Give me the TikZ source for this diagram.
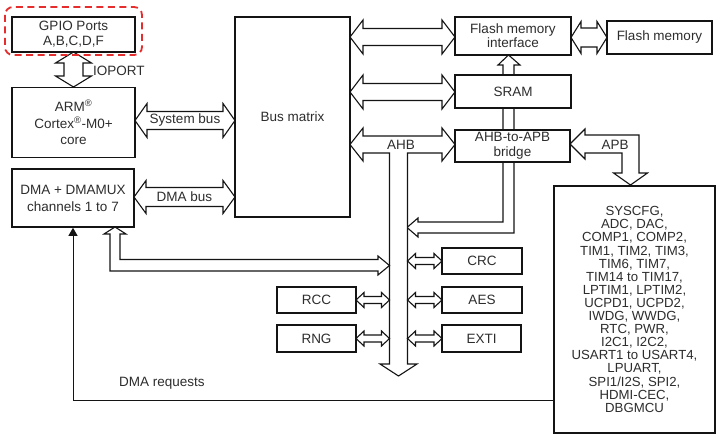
\documentclass[tikz,border=0pt]{standalone}
\usepackage{fontspec}
\setmainfont{Liberation Sans}
\usetikzlibrary{arrows.meta}
\definecolor{gpiored}{RGB}{230,45,45}
\definecolor{ink}{RGB}{20,20,20}
\definecolor{txt}{RGB}{45,45,45}
\tikzset{
  blk/.style={draw=ink,line width=1.6pt,fill=white,inner sep=0pt,align=center,text=txt,
    font=\fontsize{13.5}{15}\selectfont},
  barrow/.style={draw=ink,line width=1.1pt,fill=white,line join=miter},
  lbl/.style={text=txt,font=\fontsize{13.5}{15}\selectfont,inner sep=0pt},
}
% horizontal double-headed block arrow: x1 x2 yc shafthalf headhalf headlen
\newcommand\hdarrow[6]{%
\draw[barrow] (#1,#3) -- (#1+#6,#3-#5) -- (#1+#6,#3-#4) -- (#2-#6,#3-#4) -- (#2-#6,#3-#5) -- (#2,#3)
 -- (#2-#6,#3+#5) -- (#2-#6,#3+#4) -- (#1+#6,#3+#4) -- (#1+#6,#3+#5) -- cycle;}
% vertical double-headed block arrow: y1 y2 xc shafthalf headhalf headlen
\newcommand\vdarrow[6]{%
\draw[barrow] (#3,#1) -- (#3+#5,#1+#6) -- (#3+#4,#1+#6) -- (#3+#4,#2-#6) -- (#3+#5,#2-#6) -- (#3,#2)
 -- (#3-#5,#2-#6) -- (#3-#4,#2-#6) -- (#3-#4,#1+#6) -- (#3-#5,#1+#6) -- cycle;}
\begin{document}
\begin{tikzpicture}[x=1pt,y=-1pt]
\useasboundingbox[fill=white] (0,0) rectangle (720,441);

% ---- block arrows (drawn first, boxes cover their ends) ----
% flash-interface return bus (from AHB to flash memory interface)
\draw[barrow] (407,227.5) -- (418,218) -- (418,222) -- (503,222) -- (503,65) -- (498,65) -- (508.5,55)
  -- (520,65) -- (514,65) -- (514,233) -- (418,233) -- (418,237) -- cycle;
% AHB T-shaped bus
\draw[barrow] (350,144.5) -- (363,128) -- (363,136) -- (442,136) -- (442,128) -- (455,144.5)
  -- (442,161) -- (442,153) -- (407.5,153) -- (407.5,364) -- (417,364) -- (398.5,376)
  -- (380,364) -- (389.5,364) -- (389.5,153) -- (363,153) -- (363,161) -- cycle;
% APB bus
\draw[barrow] (570,144) -- (585,129) -- (585,135) -- (639,135) -- (639,173) -- (647.5,173)
  -- (630.5,185) -- (613.5,173) -- (622,173) -- (622,153) -- (585,153) -- (585,159) -- cycle;
% DMA to AHB
\draw[barrow] (115,227) -- (126,234) -- (120,234) -- (120,259.5) -- (378,259.5) -- (378,256)
  -- (389.5,265.5) -- (378,275) -- (378,271) -- (110,271) -- (110,234) -- (104,234) -- cycle;
% IOPORT
\vdarrow{52}{87}{73.5}{9.5}{18}{11}
% System bus, DMA bus
\hdarrow{135}{235}{120.5}{9}{17}{12}
\hdarrow{134}{235}{197}{9.5}{16.5}{12}
% bus matrix to flash interface and SRAM
\hdarrow{350}{455}{37}{8.5}{17}{13}
\hdarrow{350}{455}{92}{8.5}{17}{13}
% flash interface to flash memory
\hdarrow{571}{607}{37.5}{9.5}{16}{10}
% small peripherals
\hdarrow{356}{389.5}{300}{3.5}{7.5}{8}
\hdarrow{356}{389.5}{338.5}{3.5}{7.5}{8}
\hdarrow{407.5}{442}{261}{3.5}{7.5}{8}
\hdarrow{407.5}{442}{300}{3.5}{7.5}{8}
\hdarrow{407.5}{442}{338.5}{3.5}{7.5}{8}

% ---- boxes ----
\draw[gpiored,line width=1.8pt,dash pattern=on 7pt off 4.5pt,rounded corners=8pt] (5,7) rectangle (142,55);
\node[blk,minimum width=123pt,minimum height=35pt] (gpio) at (73.5,34.5) {GPIO Ports\\A,B,C,D,F};
\node[blk,minimum width=123pt,minimum height=70pt,font=\fontsize{13.5}{16.5}\selectfont] (arm) at (73.5,122.5)
  {ARM\textsuperscript{®}\\Cortex\textsuperscript{®}-M0+\\core};
\node[blk,minimum width=122pt,minimum height=58pt,font=\fontsize{13.5}{17}\selectfont] (dma) at (73,198)
  {DMA + DMAMUX\\channels 1 to 7};
\node[blk,minimum width=115pt,minimum height=200pt] (bm) at (292.5,117) {Bus matrix};
\node[blk,minimum width=116pt,minimum height=38pt,font=\fontsize{13.5}{14}\selectfont] (fi) at (513,36) {Flash memory\\interface};
\node[blk,minimum width=105pt,minimum height=33pt] (fm) at (659.5,37.5) {Flash memory};
\node[blk,minimum width=116pt,minimum height=33pt] (sram) at (513,91.5) {SRAM};
\node[blk,minimum width=115pt,minimum height=32pt,font=\fontsize{13.5}{14.5}\selectfont] (bridge) at (512.5,146) {AHB-to-APB\\bridge};
\node[blk,minimum width=161pt,minimum height=247pt,font=\fontsize{13.2}{13.1}\selectfont] (per) at (634.5,309.5)
  {SYSCFG,\\ADC, DAC,\\COMP1, COMP2,\\TIM1, TIM2, TIM3,\\TIM6, TIM7,\\TIM14 to TIM17,\\LPTIM1, LPTIM2,\\UCPD1, UCPD2,\\IWDG, WWDG,\\RTC, PWR,\\I2C1, I2C2,\\USART1 to USART4,\\LPUART,\\SPI1/I2S, SPI2,\\HDMI-CEC,\\DBGMCU};
\node[blk,minimum width=80pt,minimum height=26pt] (crc) at (482,261) {CRC};
\node[blk,minimum width=80pt,minimum height=26pt] (aes) at (482,300) {AES};
\node[blk,minimum width=79pt,minimum height=27pt] (exti) at (481.5,338.5) {EXTI};
\node[blk,minimum width=79pt,minimum height=26pt] (rcc) at (316.5,300) {RCC};
\node[blk,minimum width=79pt,minimum height=27pt] (rng) at (316.5,338.5) {RNG};

% ---- labels ----
\node[lbl,anchor=west] (ioportlbl) at (93,71) {IOPORT};
\node[lbl] (sysbus) at (185,120.5) {System bus};
\node[lbl] (dmabus) at (184.5,197) {DMA bus};
\node[lbl] (ahblbl) at (401,145) {AHB};
\node[lbl] (apblbl) at (615,145) {APB};
\node[lbl] (dmareq) at (162,383) {DMA requests};

% ---- DMA requests connector ----
\coordinate (reqstart) at (554,400);
\draw[ink,line width=0.9pt,-{Triangle[length=8pt,width=9pt]}] (reqstart) -| (dma.south);
\end{tikzpicture}
\end{document}
